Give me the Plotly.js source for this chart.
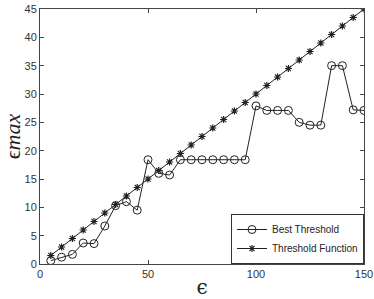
<!DOCTYPE html>
<html><head><meta charset="utf-8">
<script src="https://cdn.plot.ly/plotly-3.0.1.min.js"></script>
<style>html,body{margin:0;padding:0;background:#fff}#c{width:374px;height:299px}</style>
</head><body><div id="c"></div>
<script>
const eps = [5,10,15,20,25,30,35,40,45,50,55,60,65,70,75,80,85,90,95,100,105,110,115,120,125,130,135,140,145,150];
const bestThreshold = [0.6,1.2,1.7,3.7,3.6,6.7,10.3,11.0,9.5,18.4,16.0,15.7,18.4,18.4,18.4,18.4,18.4,18.4,18.4,27.9,27.1,27.1,27.1,25.0,24.5,24.5,35.0,35.0,27.2,27.1];
const thresholdFunction = [1.5,3,4.5,6,7.5,9,10.5,12,13.5,15,16.5,18,19.5,21,22.5,24,25.5,27,28.5,30,31.5,33,34.5,36,37.5,39,40.5,42,43.5,45];
const xTicks = [0,50,100,150];
const yTicks = [0,5,10,15,20,25,30,35,40,45];

const traces = [
  {x: eps, y: bestThreshold, name: 'Best Threshold', mode: 'lines+markers',
   line: {color: '#222', width: 1},
   marker: {symbol: 'circle-open', size: 8, color: '#222', line: {width: 1}}},
  {x: eps, y: thresholdFunction, name: 'Threshold Function', mode: 'lines+markers',
   line: {color: '#222', width: 1},
   marker: {symbol: 'asterisk-open', size: 6, color: '#222', line: {width: 1.2}}}
];
const axisCommon = {showgrid: false, zeroline: false, showline: true, mirror: 'ticks',
  linecolor: '#444', linewidth: 1, ticks: 'inside', ticklen: 4, tickcolor: '#444',
  tickfont: {family: 'Liberation Sans, Arial, sans-serif', size: 11, color: '#333'}};
const layout = {
  width: 374, height: 299,
  margin: {l: 40, r: 10, t: 9, b: 35},
  paper_bgcolor: '#fff', plot_bgcolor: '#fff',
  showlegend: true,
  legend: {x: 1, y: 0, xanchor: 'right', yanchor: 'bottom', bordercolor: '#333', borderwidth: 1,
    bgcolor: '#fff', font: {family: 'Liberation Sans, Arial, sans-serif', size: 10, color: '#222'},
    tracegroupgap: 0, itemwidth: 30},
  xaxis: Object.assign({}, axisCommon, {range: [0,150], tickvals: xTicks, ticktext: xTicks.map(String),
    title: {text: 'ϵ', standoff: 0, font: {family: 'DejaVu Serif, serif', size: 20, color: '#222'}}}),
  yaxis: Object.assign({}, axisCommon, {range: [0,45], tickvals: yTicks, ticktext: yTicks.map(String),
    title: {text: 'ϵ<i>max</i>', standoff: 2, font: {family: 'Liberation Serif, serif', size: 22, color: '#222'}}})
};
Plotly.newPlot('c', traces, layout, {displayModeBar: false, staticPlot: true});
</script></body></html>
